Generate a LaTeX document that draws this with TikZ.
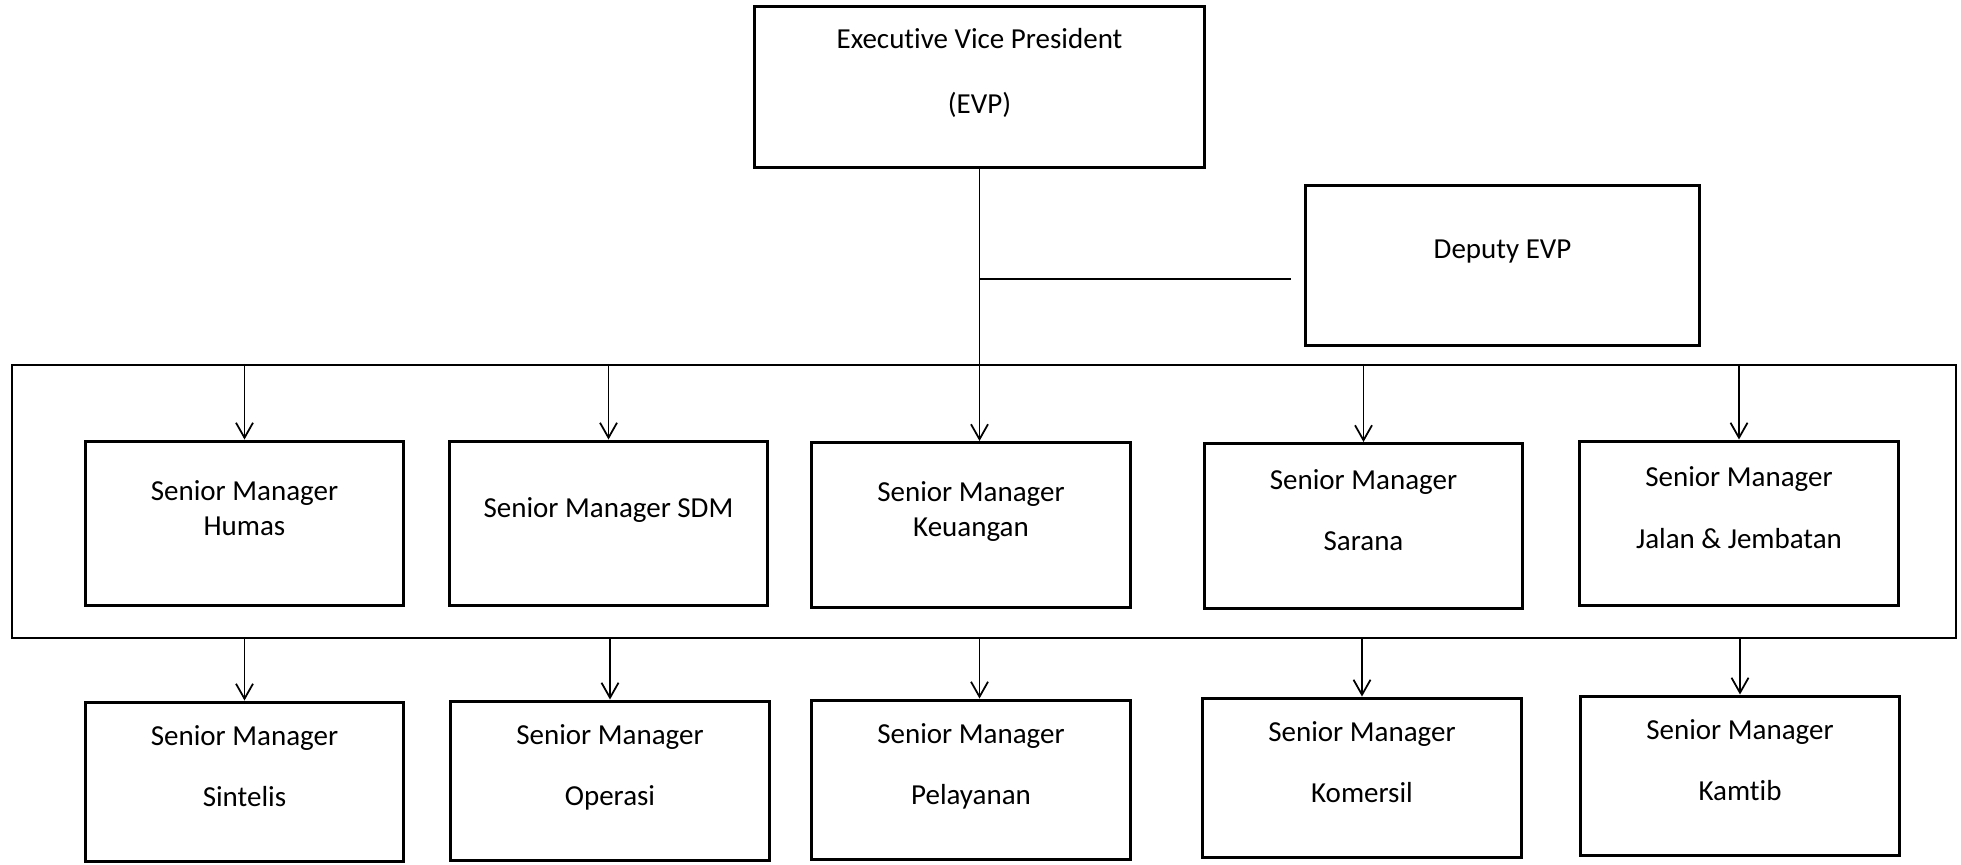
\documentclass[tikz,border=0pt]{standalone}
\usepackage{fontspec}
\setmainfont{Carlito}[Ligatures=NoCommon]
\usetikzlibrary{arrows.meta}

\begin{document}
\begin{tikzpicture}[
  x=0.02cm, y=-0.02cm,
  font=\fontsize{16.5}{20}\selectfont,
  unit/.style={draw, line width=1.7pt, align=center, inner sep=2pt, text depth=18pt,
  minimum width=6.38cm, minimum height=3.3cm},
  lower/.style={unit, minimum height=3.2cm},
  frame/.style={draw, line width=1.3pt},
  link/.style={line width=1pt},
  arrow/.style={-{Straight Barb[length=3mm,width=3.4mm]}, line width=1pt}]
\useasboundingbox (0,0) rectangle (1961,865);
% top of the chart
\node[unit, minimum width=9.02cm, minimum height=3.24cm] (evp) at (979.5,87)
  {Executive Vice President\\[17pt](EVP)};
\node[unit, minimum width=7.9cm, minimum height=3.22cm] (dep) at (1502.5,265.5) {Deputy EVP};
\node[frame, minimum width=38.88cm, minimum height=5.46cm] (grp) at (984,501.5) {};
% first row
\node[unit] (hum) at (244.5,523.5) {Senior Manager\\Humas};
\node[unit] (sdm) at (608.5,523.5) {Senior Manager SDM};
\node[unit] (keu) at (971,525) {Senior Manager\\Keuangan};
\node[unit] (sar) at (1363.5,526) {Senior Manager\\[15pt]Sarana};
\node[unit] (jal) at (1739,523.5) {Senior Manager\\[15pt]Jalan \& Jembatan};
% second row
\node[lower] (sin) at (244.5,782) {Senior Manager\\[15pt]Sintelis};
\node[lower] (ops) at (610,781) {Senior Manager\\[15pt]Operasi};
\node[lower] (pel) at (971,780) {Senior Manager\\[15pt]Pelayanan};
\node[lower] (kom) at (1362,778) {Senior Manager\\[15pt]Komersil};
\node[lower] (kam) at (1740,776) {Senior Manager\\[15pt]Kamtib};
% connectors
\coordinate (depin) at ([yshift=-0.27cm]dep.west);
\draw[arrow] (evp) -- (evp |- keu.north);
\draw[link, shorten >=0.25cm] (evp |- depin) -- (depin);
\draw[arrow] (grp.north -| hum) -- (hum);
\draw[arrow] (grp.north -| sdm) -- (sdm);
\draw[arrow] (grp.north -| sar) -- (sar);
\draw[arrow] (grp.north -| jal) -- (jal);
\draw[arrow] (grp.south -| sin) -- (sin);
\draw[arrow] (grp.south -| ops) -- (ops);
\draw[arrow] (grp.south -| evp) -- (evp |- pel.north);
\draw[arrow] (grp.south -| kom) -- (kom);
\draw[arrow] (grp.south -| kam) -- (kam);
\end{tikzpicture}
\end{document}
